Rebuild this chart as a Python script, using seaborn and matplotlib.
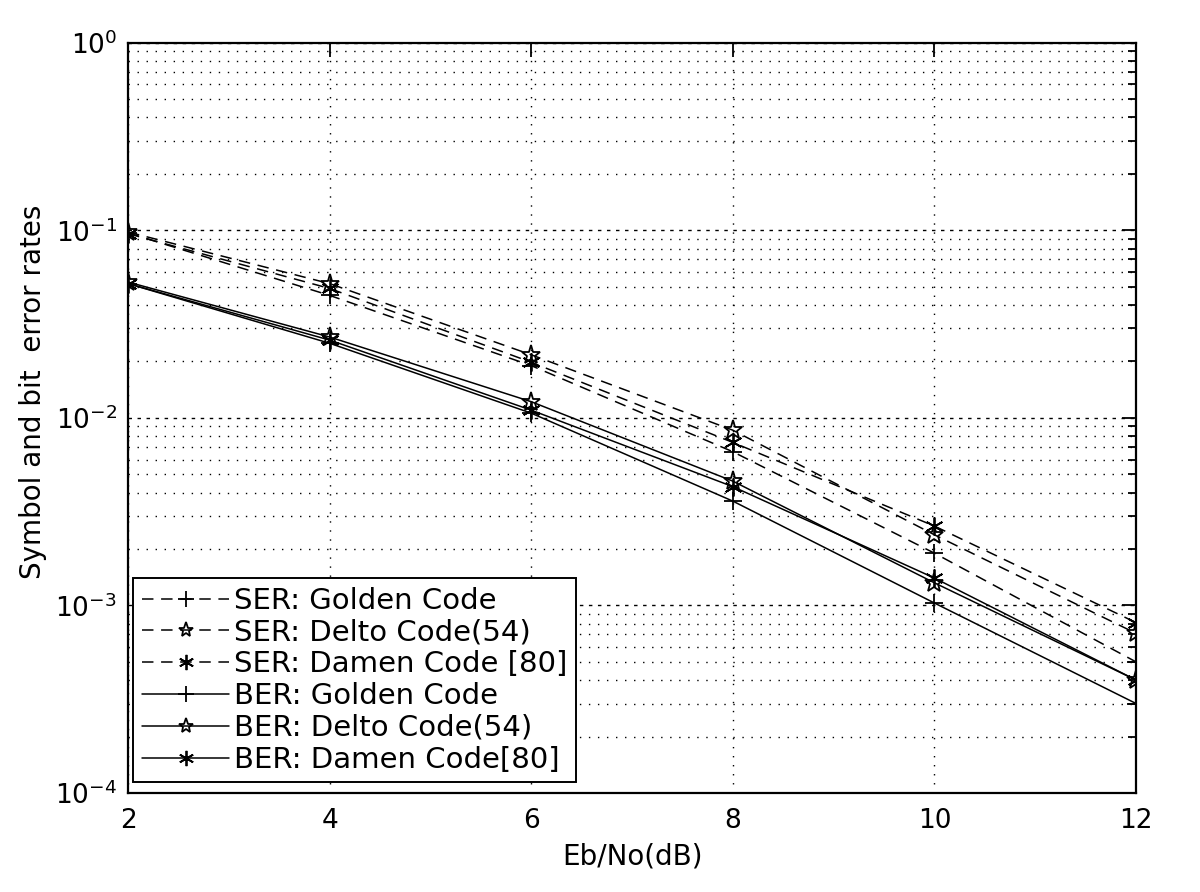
import numpy as np
import pandas as pd
import matplotlib
matplotlib.use("Agg")
import matplotlib.pyplot as plt
import seaborn as sns
from matplotlib.ticker import LogLocator, FixedLocator, NullFormatter

# ---- data ----
ebno = [2, 4, 6, 8, 10, 12]
ser_golden = [0.097, 0.045, 0.019, 0.0066, 0.0019, 0.00050]
ser_delto = [0.098, 0.052, 0.0217, 0.0086, 0.00238, 0.00071]
ser_damen = [0.096, 0.049, 0.0198, 0.0074, 0.00265, 0.00081]
ber_golden = [0.052, 0.025, 0.0106, 0.0036, 0.00103, 0.00030]
ber_delto = [0.053, 0.027, 0.0122, 0.0046, 0.00132, 0.00040]
ber_damen = [0.052, 0.026, 0.0110, 0.0043, 0.00140, 0.00040]
labels = ["SER: Golden Code", "SER: Delto Code(54)", "SER: Damen Code [80]",
          "BER: Golden Code", "BER: Delto Code(54)", "BER: Damen Code[80]"]
series = [ser_golden, ser_delto, ser_damen, ber_golden, ber_delto, ber_damen]
ytick_vals = [1e-4, 1e-3, 1e-2, 1e-1, 1]
ytick_labels = [r'$10^{-4}$', r'$10^{-3}$', r'$10^{-2}$', r'$10^{-1}$', r'$10^{0}$']
xtick_vals = [2, 4, 6, 8, 10, 12]

sns.set_theme(style="white")
plt.rcParams['font.family'] = ['DejaVu Sans']
plt.rcParams.update({'text.color': 'black', 'axes.labelcolor': 'black',
                     'xtick.color': 'black', 'ytick.color': 'black'})

fig = plt.figure(figsize=(12, 8.92), dpi=100)
ax = fig.add_axes([0.1067, 0.111, 0.84, 0.841])

asterisk = (6, 2, 0)
markers = ['+', '*', asterisk, '+', '*', asterisk]
for i, (lab, vals) in enumerate(zip(labels, series)):
    df = pd.DataFrame({"x": ebno, "y": vals})
    dashed = lab.startswith("SER")
    m = markers[i]
    kw = dict(marker=m, markersize=14 if m == '*' else 13, markeredgewidth=1.3,
              color='black', linewidth=1.1)
    if m == '*':
        kw.update(markerfacecolor='none', markeredgecolor='black')
    else:
        kw.update(markerfacecolor='black', markeredgecolor='black')
    sns.lineplot(data=df, x="x", y="y", ax=ax, label=lab, **kw)
    if dashed:
        ax.lines[-1].set_dashes((7.5, 5))

ax.set_yscale('log')
ax.set_xlim(2, 12)
ax.set_ylim(1e-4, 1)
ax.set_xticks(xtick_vals)
ax.yaxis.set_major_locator(FixedLocator(ytick_vals))
ax.yaxis.set_minor_locator(LogLocator(base=10, subs=np.arange(2, 10), numticks=20))
ax.yaxis.set_minor_formatter(NullFormatter())
ax.set_yticklabels(ytick_labels)

ax.grid(True, which='major', axis='x', linestyle=(0, (1, 5.5)), color='black', linewidth=1.0)
ax.grid(True, which='major', axis='y', linestyle=(0, (2.5, 4)), color='black', linewidth=1.0)
ax.grid(True, which='minor', axis='y', linestyle=(0, (1, 5.5)), color='black', linewidth=1.0)

ax.tick_params(axis='both', which='both', direction='in', top=True, right=True,
               color='black', labelcolor='black', labelsize=19)
ax.tick_params(axis='x', pad=11)
ax.tick_params(axis='y', pad=8)
ax.tick_params(which='major', length=10, width=1.3)
ax.tick_params(which='minor', length=5.5, width=1.3)
for s in ax.spines.values():
    s.set_color('black')
    s.set_linewidth(1.6)

ax.set_xlabel("Eb/No(dB)", fontsize=20, labelpad=6)
ax.set_ylabel("Symbol and bit  error rates", fontsize=20)
ax.yaxis.set_label_coords(-0.08, 0.535)

leg = ax.legend(loc='lower left', bbox_to_anchor=(0.005, 0.014), borderaxespad=0,
                fontsize=21, frameon=True, fancybox=False,
                edgecolor='black', framealpha=1, borderpad=0.3, labelspacing=0.13,
                handlelength=3.0, handletextpad=0.15)
leg.get_frame().set_linewidth(1.4)
for h in leg.legend_handles:
    h.set_markersize(11)

fig.savefig("out.png", dpi=100, facecolor='white')
